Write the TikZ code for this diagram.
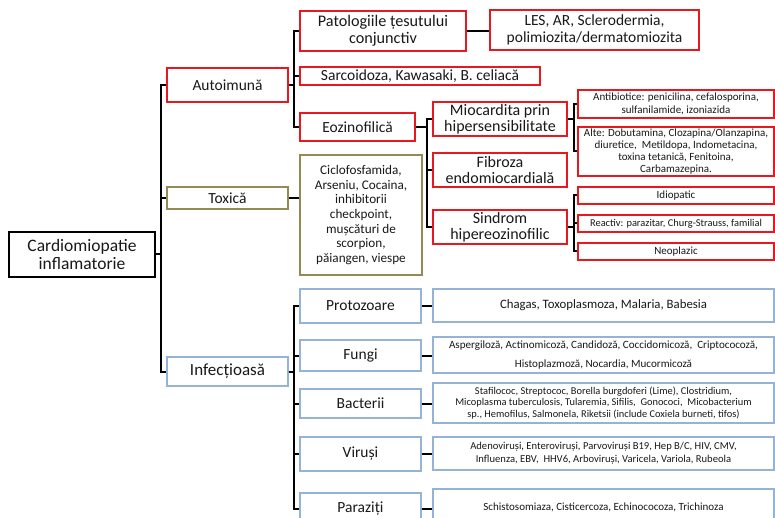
\documentclass[tikz,border=0pt]{standalone}
\usepackage{fontspec}
\setmainfont{Carlito}
\definecolor{bred}{RGB}{232,24,30}
\definecolor{bolive}{RGB}{148,138,84}
\definecolor{bblue}{RGB}{149,179,215}
\definecolor{txt}{RGB}{25,25,25}
\tikzset{
  base/.style={draw, fill=white, rectangle, inner sep=0pt, align=center, text=txt},
  rbox/.style={base, draw=bred, line width=1.8pt},
  obox/.style={base, draw=bolive, line width=1.6pt},
  ubox/.style={base, draw=bblue, line width=1.4pt},
  kbox/.style={base, draw=black, line width=1.4pt},
  big/.style={font=\fontsize{15.5}{17.5}\selectfont},
  conn/.style={draw=black, line width=2pt},
}
\begin{document}
\begin{tikzpicture}[x=1pt,y=-1pt]
\useasboundingbox (0,0) rectangle (775,518);
\clip (0,0) rectangle (775,518);
\fill[white] (0,0) rectangle (775,518);
% level 0
\node[kbox,font=\fontsize{17.5}{18}\selectfont,minimum width=146pt,minimum height=45pt] (root) at (82,254.5) {Cardiomiopatie\\inflamatorie};
% level 1
\node[rbox,big,minimum width=121pt,minimum height=34pt] (auto) at (227.5,85) {Autoimună};
\node[obox,big,minimum width=121pt,minimum height=22pt] (tox) at (227.5,198) {Toxică};
\node[ubox,font=\fontsize{17}{18}\selectfont,minimum width=121pt,minimum height=29pt] (inf) at (227.5,371.5) {Infecțioasă};
% autoimuna branch
\node[rbox,font=\fontsize{16.2}{17.5}\selectfont,minimum width=166pt,minimum height=40pt] (pat) at (383,31) {Patologiile țesutului\\conjunctiv};
\node[rbox,big,minimum width=209pt,minimum height=40pt] (les) at (594.5,30) {LES, AR, Sclerodermia,\\polimiozita/dermatomiozita};
\node[rbox,big,minimum width=240pt,minimum height=18pt] (sar) at (420,76) {Sarcoidoza, Kawasaki, B. celiacă};
\node[rbox,big,minimum width=115pt,minimum height=28pt] (eoz) at (357.5,127) {Eozinofilică};
\node[rbox,font=\fontsize{16}{16.5}\selectfont,minimum width=134pt,minimum height=34pt] (mio) at (500,119) {Miocardita prin\\hipersensibilitate};
\node[rbox,font=\fontsize{16}{16.5}\selectfont,minimum width=134pt,minimum height=34pt] (fib) at (500,170) {Fibroza\\endomiocardială};
\node[rbox,font=\fontsize{16}{16.5}\selectfont,minimum width=134pt,minimum height=34pt] (sin) at (500,227) {Sindrom\\hipereozinofilic};
\node[rbox,font=\fontsize{11}{13.3}\selectfont,minimum width=196pt,minimum height=28pt] (ab) at (676,104) {Antibiotice: penicilina, cefalosporina,\\sulfanilamide, izoniazida};
\node[rbox,font=\fontsize{11}{12}\selectfont,minimum width=196pt,minimum height=49pt] (alte) at (676,151.5) {Alte: Dobutamina, Clozapina/Olanzapina,\\diuretice,\ \ Metildopa, Indometacina,\\toxina tetanică, Fenitoina,\\Carbamazepina.};
\node[rbox,font=\fontsize{11}{12}\selectfont,minimum width=196pt,minimum height=17pt] (idio) at (676,195.5) {Idiopatic};
\node[rbox,font=\fontsize{10.4}{12}\selectfont,minimum width=196pt,minimum height=17pt] (reac) at (676,223.5) {Reactiv: parazitar, Churg-Strauss, familial};
\node[rbox,font=\fontsize{11}{12}\selectfont,minimum width=196pt,minimum height=17pt] (neo) at (676,251.5) {Neoplazic};
% toxica branch
\node[obox,font=\fontsize{13.2}{14.7}\selectfont,minimum width=122pt,minimum height=120pt] (toxb) at (361,215) {Ciclofosfamida,\\Arseniu, Cocaina,\\inhibitorii\\checkpoint,\\mușcături de\\scorpion,\\păiangen, viespe};
% infectioasa branch
\node[ubox,big,minimum width=121pt,minimum height=34pt] (proto) at (360.5,306) {Protozoare};
\node[ubox,big,minimum width=121pt,minimum height=31pt] (fungi) at (360.5,355.5) {Fungi};
\node[ubox,big,minimum width=121pt,minimum height=29pt] (bact) at (360.5,403.5) {Bacterii};
\node[ubox,big,minimum width=121pt,minimum height=34pt] (vir) at (360.5,454) {Viruși};
\node[ubox,big,minimum width=121pt,minimum height=32pt] (para) at (360.5,509) {Paraziți};
\node[ubox,font=\fontsize{12.8}{13}\selectfont,minimum width=341pt,minimum height=33pt] (chag) at (603.5,305.5) {Chagas, Toxoplasmoza, Malaria, Babesia};
\node[ubox,font=\fontsize{11.1}{19}\selectfont,minimum width=341pt,minimum height=36pt] (asp) at (603.5,355) {Aspergiloză, Actinomicoză, Candidoză, Coccidomicoză,\ \ Criptococoză,\\Histoplazmoză, Nocardia, Mucormicoză};
\node[ubox,font=\fontsize{10.4}{11.5}\selectfont,minimum width=341pt,minimum height=40pt] (staf) at (603.5,403) {Stafilococ, Streptococ, Borella burgdoferi (Lime), Clostridium,\\Micoplasma tuberculosis, Tularemia, Sifilis,\ \ Gonococi,\ \ Micobacterium\\sp., Hemofilus, Salmonela, Riketsii (include Coxiela burneti, tifos)};
\node[ubox,font=\fontsize{10.6}{13}\selectfont,minimum width=341pt,minimum height=33pt] (aden) at (603.5,453.5) {Adenoviruși, Enteroviruși, Parvoviruși B19, Hep B/C, HIV, CMV,\\Influenza, EBV,\ \ HHV6, Arboviruși, Varicela, Variola, Rubeola};
\node[ubox,font=\fontsize{11}{12}\selectfont,minimum width=341pt,minimum height=36pt] (schis) at (603.5,507) {Schistosomiaza, Cisticercoza, Echinococoza, Trichinoza};
% connectors
\draw[conn] (root.east) -- ++(5,0) |- (auto.west);
\draw[conn] (root.east) -- ++(5,0) |- (tox.west);
\draw[conn] (root.east) -- ++(5,0) |- (inf.west);
\draw[conn] (auto.east) -- ++(5,0) |- (pat.west);
\draw[conn] (auto.east) -- ++(5,0) |- (sar.west);
\draw[conn] (auto.east) -- ++(5,0) |- (eoz.west);
\draw[conn] (pat.east) -- (pat.east -| les.west);
\draw[conn] (eoz.east) -- ++(11,0) |- (mio.west);
\draw[conn] (eoz.east) -- ++(11,0) |- (fib.west);
\draw[conn] (eoz.east) -- ++(11,0) |- (sin.west);
\draw[conn] (mio.east) -- ++(6,0) |- (ab.west);
\draw[conn] (mio.east) -- ++(6,0) |- (alte.west);
\draw[conn] (sin.east) -- ++(6,0) |- (idio.west);
\draw[conn] (sin.east) -- ++(6,0) |- (reac.west);
\draw[conn] (sin.east) -- ++(6,0) |- (neo.west);
\draw[conn] (tox.east) -- (tox.east -| toxb.west);
\draw[conn] (inf.east) -- ++(5,0) |- (proto.west);
\draw[conn] (inf.east) -- ++(5,0) |- (fungi.west);
\draw[conn] (inf.east) -- ++(5,0) |- (bact.west);
\draw[conn] (inf.east) -- ++(5,0) |- (vir.west);
\draw[conn] (inf.east) -- ++(5,0) |- (para.west);
\draw[conn] (proto.east) -- (proto.east -| chag.west);
\draw[conn] (fungi.east) -- (fungi.east -| asp.west);
\draw[conn] (bact.east) -- (bact.east -| staf.west);
\draw[conn] (vir.east) -- (vir.east -| aden.west);
\draw[conn] (para.east) -- (para.east -| schis.west);
\end{tikzpicture}
\end{document}
